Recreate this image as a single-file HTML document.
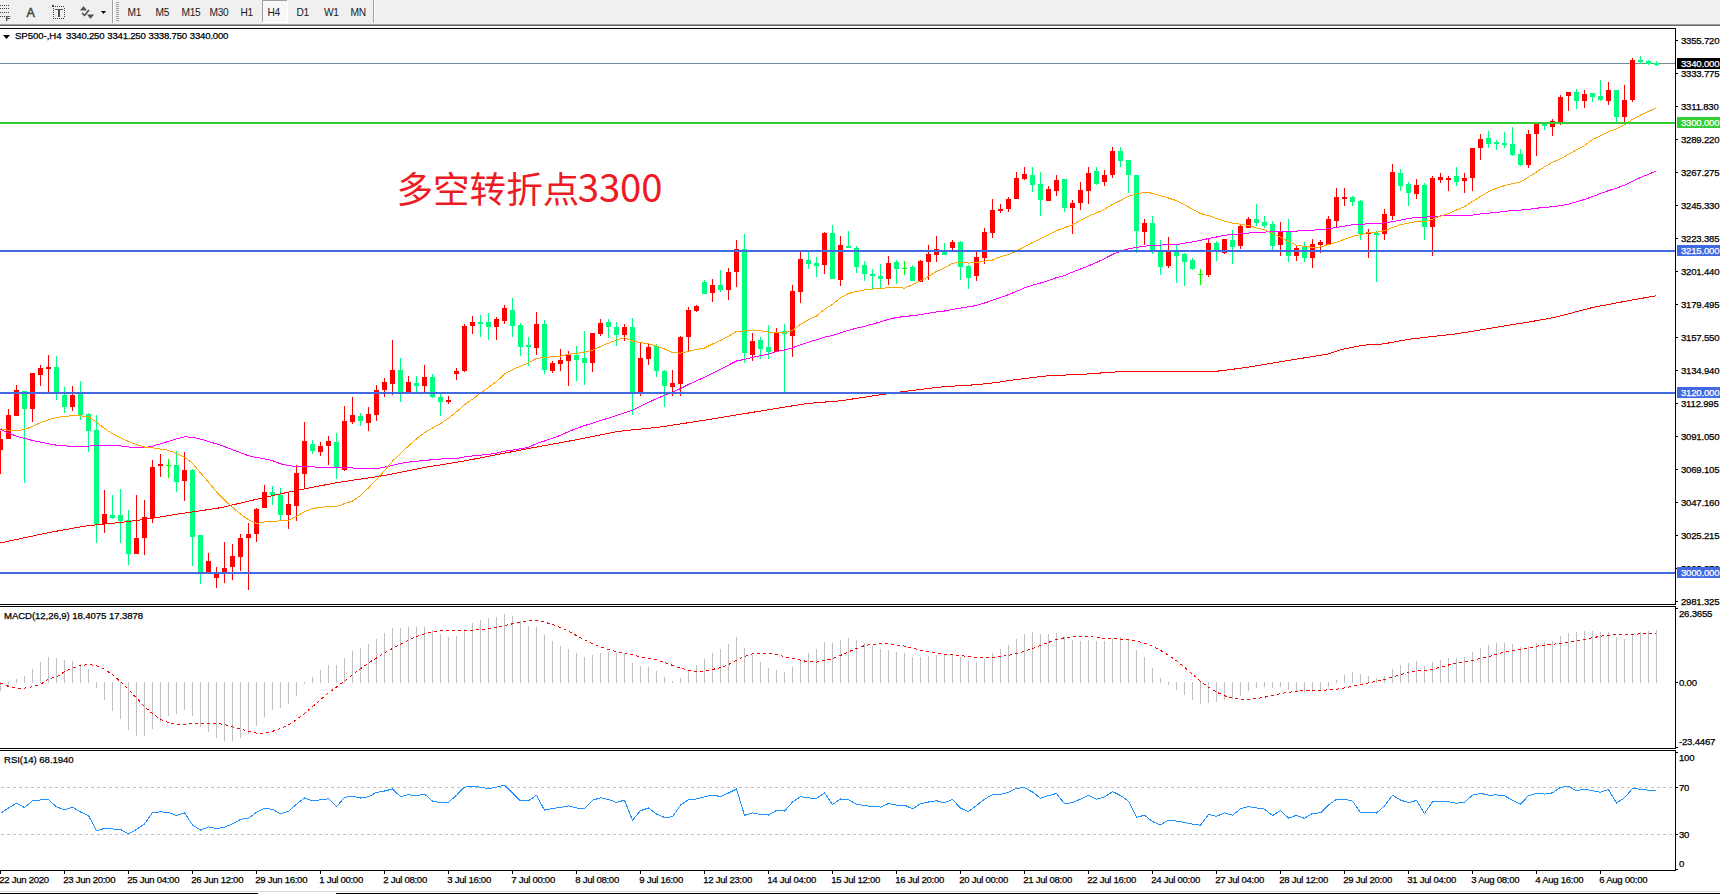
<!DOCTYPE html>
<html><head><meta charset="utf-8"><title>SP500 H4</title>
<style>html,body{margin:0;padding:0;background:#fff;width:1720px;height:894px;overflow:hidden}svg{display:block} text.k{stroke:#000} text.w{stroke:#fff}</style>
</head><body>
<svg width="1720" height="894" viewBox="0 0 1720 894">
<defs><pattern id="dith" x="0" y="0" width="2" height="2" patternUnits="userSpaceOnUse"><rect width="2" height="2" fill="#f0f0f0"/><rect width="1" height="1" fill="#fff"/><rect x="1" y="1" width="1" height="1" fill="#fff"/></pattern><clipPath id="cmain"><rect x="0" y="29" width="1675" height="575"/></clipPath></defs>
<rect x="0" y="0" width="1720" height="894" fill="#fff"/>
<rect x="0" y="0" width="1720" height="24" fill="#f0f0f0"/>
<rect x="0" y="24" width="1720" height="1" fill="#a0a0a0"/>
<rect x="0" y="25" width="1720" height="1" fill="#676767"/>
<rect x="0" y="5" width="1" height="1" fill="#404040"/>
<rect x="2" y="5" width="1" height="1" fill="#404040"/>
<rect x="4" y="5" width="1" height="1" fill="#404040"/>
<rect x="6" y="5" width="1" height="1" fill="#404040"/>
<rect x="8" y="5" width="1" height="1" fill="#404040"/>
<rect x="0" y="8" width="1" height="1" fill="#404040"/>
<rect x="2" y="8" width="1" height="1" fill="#404040"/>
<rect x="4" y="8" width="1" height="1" fill="#404040"/>
<rect x="6" y="8" width="1" height="1" fill="#404040"/>
<rect x="8" y="8" width="1" height="1" fill="#404040"/>
<rect x="0" y="12" width="1" height="1" fill="#404040"/>
<rect x="2" y="12" width="1" height="1" fill="#404040"/>
<rect x="4" y="12" width="1" height="1" fill="#404040"/>
<rect x="6" y="12" width="1" height="1" fill="#404040"/>
<rect x="8" y="12" width="1" height="1" fill="#404040"/>
<rect x="0" y="16" width="1" height="1" fill="#404040"/>
<rect x="2" y="16" width="1" height="1" fill="#404040"/>
<rect x="4" y="16" width="1" height="1" fill="#404040"/>
<text x="5.5" y="21" font-family="'Liberation Sans', sans-serif" font-size="8" font-weight="bold" fill="#404040">F</text>
<text x="26.5" y="17" font-family="'Liberation Sans', sans-serif" font-size="12.5" fill="#484848" stroke="#484848" stroke-width="0.5">A</text>
<rect x="53" y="6" width="1" height="1" fill="#404040"/>
<rect x="53" y="18" width="1" height="1" fill="#404040"/>
<rect x="55" y="6" width="1" height="1" fill="#404040"/>
<rect x="55" y="18" width="1" height="1" fill="#404040"/>
<rect x="57" y="6" width="1" height="1" fill="#404040"/>
<rect x="57" y="18" width="1" height="1" fill="#404040"/>
<rect x="59" y="6" width="1" height="1" fill="#404040"/>
<rect x="59" y="18" width="1" height="1" fill="#404040"/>
<rect x="61" y="6" width="1" height="1" fill="#404040"/>
<rect x="61" y="18" width="1" height="1" fill="#404040"/>
<rect x="63" y="6" width="1" height="1" fill="#404040"/>
<rect x="63" y="18" width="1" height="1" fill="#404040"/>
<rect x="53" y="8" width="1" height="1" fill="#404040"/>
<rect x="64" y="8" width="1" height="1" fill="#404040"/>
<rect x="53" y="10" width="1" height="1" fill="#404040"/>
<rect x="64" y="10" width="1" height="1" fill="#404040"/>
<rect x="53" y="12" width="1" height="1" fill="#404040"/>
<rect x="64" y="12" width="1" height="1" fill="#404040"/>
<rect x="53" y="14" width="1" height="1" fill="#404040"/>
<rect x="64" y="14" width="1" height="1" fill="#404040"/>
<rect x="53" y="16" width="1" height="1" fill="#404040"/>
<rect x="64" y="16" width="1" height="1" fill="#404040"/>
<rect x="52" y="5" width="2" height="2" fill="#404040"/><rect x="55" y="9" width="8" height="1" fill="#505050"/><rect x="58" y="9" width="2" height="8" fill="#505050"/>
<path d="M80,10.5 L83.5,6 L87,10.5 Z" fill="#505050"/>
<path d="M82,13 L84.5,15.5 L89,10" fill="none" stroke="#404040" stroke-width="1.4"/>
<path d="M87,14.5 L94,14.5 L90.5,19 Z" fill="#505050"/>
<path d="M101,11 L106,11 L103.5,14 Z" fill="#000"/>
<rect x="112" y="0" width="1" height="23" fill="#a0a0a0"/><rect x="113" y="0" width="1" height="23" fill="#ffffff"/>
<rect x="116" y="2" width="3" height="1" fill="#a0a0a0"/>
<rect x="116" y="4" width="3" height="1" fill="#a0a0a0"/>
<rect x="116" y="6" width="3" height="1" fill="#a0a0a0"/>
<rect x="116" y="8" width="3" height="1" fill="#a0a0a0"/>
<rect x="116" y="10" width="3" height="1" fill="#a0a0a0"/>
<rect x="116" y="12" width="3" height="1" fill="#a0a0a0"/>
<rect x="116" y="14" width="3" height="1" fill="#a0a0a0"/>
<rect x="116" y="16" width="3" height="1" fill="#a0a0a0"/>
<rect x="116" y="18" width="3" height="1" fill="#a0a0a0"/>
<rect x="116" y="20" width="3" height="1" fill="#a0a0a0"/>
<rect x="262" y="0" width="25" height="22" fill="url(#dith)"/>
<rect x="262" y="0" width="25" height="1" fill="#a0a0a0"/><rect x="262" y="0" width="1" height="22" fill="#a0a0a0"/>
<rect x="287" y="0" width="1" height="23" fill="#ffffff"/><rect x="262" y="22" width="26" height="1" fill="#ffffff"/>
<text x="127.5" y="15.7" font-family="'Liberation Sans', sans-serif" font-size="10.2" fill="#202020" letter-spacing="-0.3">M1</text>
<text x="155.5" y="15.7" font-family="'Liberation Sans', sans-serif" font-size="10.2" fill="#202020" letter-spacing="-0.3">M5</text>
<text x="181.5" y="15.7" font-family="'Liberation Sans', sans-serif" font-size="10.2" fill="#202020" letter-spacing="-0.3">M15</text>
<text x="209.5" y="15.7" font-family="'Liberation Sans', sans-serif" font-size="10.2" fill="#202020" letter-spacing="-0.3">M30</text>
<text x="240.5" y="15.7" font-family="'Liberation Sans', sans-serif" font-size="10.2" fill="#202020" letter-spacing="-0.3">H1</text>
<text x="267.5" y="15.7" font-family="'Liberation Sans', sans-serif" font-size="10.2" fill="#202020" letter-spacing="-0.3">H4</text>
<text x="296.5" y="15.7" font-family="'Liberation Sans', sans-serif" font-size="10.2" fill="#202020" letter-spacing="-0.3">D1</text>
<text x="324" y="15.7" font-family="'Liberation Sans', sans-serif" font-size="10.2" fill="#202020" letter-spacing="-0.3">W1</text>
<text x="350.5" y="15.7" font-family="'Liberation Sans', sans-serif" font-size="10.2" fill="#202020" letter-spacing="-0.3">MN</text>
<rect x="373" y="0" width="1" height="23" fill="#a0a0a0"/><rect x="374" y="0" width="1" height="23" fill="#ffffff"/>
<g shape-rendering="crispEdges">
<rect x="0" y="63" width="1676" height="1" fill="#778899"/>
</g>
<g shape-rendering="crispEdges" clip-path="url(#cmain)">
<rect x="0" y="431" width="1" height="43" fill="#ff0000"/>
<rect x="-2" y="439" width="5" height="11" fill="#ff0000"/>
<rect x="8" y="409" width="1" height="30" fill="#ff0000"/>
<rect x="6" y="415" width="5" height="24" fill="#ff0000"/>
<rect x="16" y="385" width="1" height="31" fill="#ff0000"/>
<rect x="14" y="390" width="5" height="26" fill="#ff0000"/>
<rect x="24" y="391" width="1" height="92" fill="#00ff7f"/>
<rect x="22" y="391" width="5" height="18" fill="#00ff7f"/>
<rect x="32" y="373" width="1" height="49" fill="#ff0000"/>
<rect x="30" y="373" width="5" height="36" fill="#ff0000"/>
<rect x="40" y="365" width="1" height="21" fill="#ff0000"/>
<rect x="38" y="368" width="5" height="7" fill="#ff0000"/>
<rect x="48" y="355" width="1" height="37" fill="#ff0000"/>
<rect x="46" y="367" width="5" height="2" fill="#ff0000"/>
<rect x="56" y="356" width="1" height="44" fill="#00ff7f"/>
<rect x="54" y="367" width="5" height="27" fill="#00ff7f"/>
<rect x="64" y="387" width="1" height="26" fill="#00ff7f"/>
<rect x="62" y="395" width="5" height="12" fill="#00ff7f"/>
<rect x="72" y="386" width="1" height="25" fill="#ff0000"/>
<rect x="70" y="395" width="5" height="12" fill="#ff0000"/>
<rect x="80" y="381" width="1" height="39" fill="#00ff7f"/>
<rect x="78" y="394" width="5" height="21" fill="#00ff7f"/>
<rect x="88" y="413" width="1" height="39" fill="#00ff7f"/>
<rect x="86" y="414" width="5" height="17" fill="#00ff7f"/>
<rect x="96" y="415" width="1" height="128" fill="#00ff7f"/>
<rect x="94" y="430" width="5" height="94" fill="#00ff7f"/>
<rect x="104" y="490" width="1" height="43" fill="#ff0000"/>
<rect x="102" y="514" width="5" height="10" fill="#ff0000"/>
<rect x="112" y="495" width="1" height="24" fill="#00ff7f"/>
<rect x="110" y="515" width="5" height="3" fill="#00ff7f"/>
<rect x="120" y="489" width="1" height="54" fill="#00ff7f"/>
<rect x="118" y="515" width="5" height="6" fill="#00ff7f"/>
<rect x="128" y="510" width="1" height="55" fill="#00ff7f"/>
<rect x="126" y="520" width="5" height="34" fill="#00ff7f"/>
<rect x="136" y="495" width="1" height="59" fill="#ff0000"/>
<rect x="134" y="538" width="5" height="16" fill="#ff0000"/>
<rect x="144" y="500" width="1" height="55" fill="#ff0000"/>
<rect x="142" y="517" width="5" height="21" fill="#ff0000"/>
<rect x="152" y="460" width="1" height="63" fill="#ff0000"/>
<rect x="150" y="467" width="5" height="51" fill="#ff0000"/>
<rect x="160" y="454" width="1" height="23" fill="#ff0000"/>
<rect x="158" y="464" width="5" height="2" fill="#ff0000"/>
<rect x="168" y="459" width="1" height="19" fill="#00ff00"/>
<rect x="166" y="465" width="5" height="1" fill="#00ff00"/>
<rect x="176" y="451" width="1" height="41" fill="#00ff7f"/>
<rect x="174" y="465" width="5" height="17" fill="#00ff7f"/>
<rect x="184" y="452" width="1" height="49" fill="#ff0000"/>
<rect x="182" y="470" width="5" height="11" fill="#ff0000"/>
<rect x="192" y="469" width="1" height="97" fill="#00ff7f"/>
<rect x="190" y="470" width="5" height="67" fill="#00ff7f"/>
<rect x="200" y="535" width="1" height="49" fill="#00ff7f"/>
<rect x="198" y="535" width="5" height="39" fill="#00ff7f"/>
<rect x="208" y="553" width="1" height="21" fill="#ff0000"/>
<rect x="206" y="561" width="5" height="13" fill="#ff0000"/>
<rect x="216" y="567" width="1" height="21" fill="#ff0000"/>
<rect x="214" y="573" width="5" height="5" fill="#ff0000"/>
<rect x="224" y="542" width="1" height="41" fill="#ff0000"/>
<rect x="222" y="568" width="5" height="6" fill="#ff0000"/>
<rect x="232" y="544" width="1" height="36" fill="#ff0000"/>
<rect x="230" y="556" width="5" height="11" fill="#ff0000"/>
<rect x="240" y="534" width="1" height="37" fill="#ff0000"/>
<rect x="238" y="538" width="5" height="19" fill="#ff0000"/>
<rect x="248" y="523" width="1" height="67" fill="#ff0000"/>
<rect x="246" y="534" width="5" height="4" fill="#ff0000"/>
<rect x="256" y="508" width="1" height="34" fill="#ff0000"/>
<rect x="254" y="509" width="5" height="25" fill="#ff0000"/>
<rect x="264" y="485" width="1" height="23" fill="#ff0000"/>
<rect x="262" y="492" width="5" height="16" fill="#ff0000"/>
<rect x="272" y="486" width="1" height="19" fill="#00ff7f"/>
<rect x="270" y="492" width="5" height="3" fill="#00ff7f"/>
<rect x="280" y="488" width="1" height="32" fill="#00ff7f"/>
<rect x="278" y="495" width="5" height="20" fill="#00ff7f"/>
<rect x="288" y="492" width="1" height="37" fill="#ff0000"/>
<rect x="286" y="504" width="5" height="11" fill="#ff0000"/>
<rect x="296" y="465" width="1" height="56" fill="#ff0000"/>
<rect x="294" y="473" width="5" height="33" fill="#ff0000"/>
<rect x="304" y="422" width="1" height="67" fill="#ff0000"/>
<rect x="302" y="441" width="5" height="33" fill="#ff0000"/>
<rect x="312" y="440" width="1" height="14" fill="#00ff7f"/>
<rect x="310" y="444" width="5" height="7" fill="#00ff7f"/>
<rect x="320" y="442" width="1" height="14" fill="#ff0000"/>
<rect x="318" y="446" width="5" height="6" fill="#ff0000"/>
<rect x="328" y="436" width="1" height="29" fill="#ff0000"/>
<rect x="326" y="441" width="5" height="5" fill="#ff0000"/>
<rect x="336" y="433" width="1" height="46" fill="#00ff7f"/>
<rect x="334" y="442" width="5" height="26" fill="#00ff7f"/>
<rect x="344" y="406" width="1" height="65" fill="#ff0000"/>
<rect x="342" y="421" width="5" height="49" fill="#ff0000"/>
<rect x="352" y="397" width="1" height="27" fill="#ff0000"/>
<rect x="350" y="415" width="5" height="7" fill="#ff0000"/>
<rect x="360" y="413" width="1" height="13" fill="#00ff7f"/>
<rect x="358" y="416" width="5" height="5" fill="#00ff7f"/>
<rect x="368" y="407" width="1" height="24" fill="#ff0000"/>
<rect x="366" y="414" width="5" height="9" fill="#ff0000"/>
<rect x="376" y="385" width="1" height="36" fill="#ff0000"/>
<rect x="374" y="390" width="5" height="25" fill="#ff0000"/>
<rect x="384" y="378" width="1" height="19" fill="#ff0000"/>
<rect x="382" y="382" width="5" height="8" fill="#ff0000"/>
<rect x="392" y="340" width="1" height="55" fill="#ff0000"/>
<rect x="390" y="370" width="5" height="14" fill="#ff0000"/>
<rect x="400" y="358" width="1" height="44" fill="#00ff7f"/>
<rect x="398" y="370" width="5" height="22" fill="#00ff7f"/>
<rect x="408" y="376" width="1" height="16" fill="#ff0000"/>
<rect x="406" y="382" width="5" height="10" fill="#ff0000"/>
<rect x="416" y="376" width="1" height="16" fill="#00ff7f"/>
<rect x="414" y="383" width="5" height="3" fill="#00ff7f"/>
<rect x="424" y="365" width="1" height="27" fill="#ff0000"/>
<rect x="422" y="377" width="5" height="9" fill="#ff0000"/>
<rect x="432" y="374" width="1" height="24" fill="#00ff7f"/>
<rect x="430" y="377" width="5" height="20" fill="#00ff7f"/>
<rect x="440" y="394" width="1" height="22" fill="#00ff7f"/>
<rect x="438" y="397" width="5" height="5" fill="#00ff7f"/>
<rect x="448" y="396" width="1" height="8" fill="#ff0000"/>
<rect x="446" y="400" width="5" height="2" fill="#ff0000"/>
<rect x="456" y="368" width="1" height="12" fill="#ff0000"/>
<rect x="454" y="371" width="5" height="3" fill="#ff0000"/>
<rect x="464" y="324" width="1" height="48" fill="#ff0000"/>
<rect x="462" y="326" width="5" height="45" fill="#ff0000"/>
<rect x="472" y="316" width="1" height="18" fill="#ff0000"/>
<rect x="470" y="322" width="5" height="4" fill="#ff0000"/>
<rect x="480" y="315" width="1" height="22" fill="#00ff7f"/>
<rect x="478" y="322" width="5" height="2" fill="#00ff7f"/>
<rect x="488" y="313" width="1" height="27" fill="#00ff7f"/>
<rect x="486" y="322" width="5" height="5" fill="#00ff7f"/>
<rect x="496" y="317" width="1" height="23" fill="#ff0000"/>
<rect x="494" y="319" width="5" height="8" fill="#ff0000"/>
<rect x="504" y="305" width="1" height="19" fill="#ff0000"/>
<rect x="502" y="308" width="5" height="13" fill="#ff0000"/>
<rect x="512" y="298" width="1" height="39" fill="#00ff7f"/>
<rect x="510" y="310" width="5" height="16" fill="#00ff7f"/>
<rect x="520" y="323" width="1" height="33" fill="#00ff7f"/>
<rect x="518" y="325" width="5" height="22" fill="#00ff7f"/>
<rect x="528" y="337" width="1" height="29" fill="#00ff7f"/>
<rect x="526" y="345" width="5" height="2" fill="#00ff7f"/>
<rect x="536" y="312" width="1" height="43" fill="#ff0000"/>
<rect x="534" y="324" width="5" height="24" fill="#ff0000"/>
<rect x="544" y="320" width="1" height="54" fill="#00ff7f"/>
<rect x="542" y="324" width="5" height="46" fill="#00ff7f"/>
<rect x="552" y="361" width="1" height="12" fill="#ff0000"/>
<rect x="550" y="363" width="5" height="8" fill="#ff0000"/>
<rect x="560" y="349" width="1" height="22" fill="#ff0000"/>
<rect x="558" y="360" width="5" height="4" fill="#ff0000"/>
<rect x="568" y="351" width="1" height="35" fill="#ff0000"/>
<rect x="566" y="354" width="5" height="7" fill="#ff0000"/>
<rect x="576" y="346" width="1" height="35" fill="#00ff7f"/>
<rect x="574" y="355" width="5" height="5" fill="#00ff7f"/>
<rect x="584" y="331" width="1" height="54" fill="#00ff7f"/>
<rect x="582" y="358" width="5" height="5" fill="#00ff7f"/>
<rect x="592" y="333" width="1" height="39" fill="#ff0000"/>
<rect x="590" y="333" width="5" height="30" fill="#ff0000"/>
<rect x="600" y="319" width="1" height="17" fill="#ff0000"/>
<rect x="598" y="323" width="5" height="11" fill="#ff0000"/>
<rect x="608" y="319" width="1" height="19" fill="#00ff7f"/>
<rect x="606" y="322" width="5" height="5" fill="#00ff7f"/>
<rect x="616" y="322" width="1" height="24" fill="#00ff7f"/>
<rect x="614" y="327" width="5" height="8" fill="#00ff7f"/>
<rect x="624" y="324" width="1" height="17" fill="#ff0000"/>
<rect x="622" y="327" width="5" height="8" fill="#ff0000"/>
<rect x="632" y="318" width="1" height="97" fill="#00ff7f"/>
<rect x="630" y="327" width="5" height="65" fill="#00ff7f"/>
<rect x="640" y="343" width="1" height="53" fill="#ff0000"/>
<rect x="638" y="358" width="5" height="34" fill="#ff0000"/>
<rect x="648" y="343" width="1" height="22" fill="#ff0000"/>
<rect x="646" y="347" width="5" height="12" fill="#ff0000"/>
<rect x="656" y="344" width="1" height="33" fill="#00ff7f"/>
<rect x="654" y="346" width="5" height="25" fill="#00ff7f"/>
<rect x="664" y="370" width="1" height="37" fill="#00ff7f"/>
<rect x="662" y="371" width="5" height="15" fill="#00ff7f"/>
<rect x="672" y="370" width="1" height="26" fill="#ff0000"/>
<rect x="670" y="383" width="5" height="4" fill="#ff0000"/>
<rect x="680" y="336" width="1" height="60" fill="#ff0000"/>
<rect x="678" y="337" width="5" height="47" fill="#ff0000"/>
<rect x="688" y="307" width="1" height="44" fill="#ff0000"/>
<rect x="686" y="310" width="5" height="27" fill="#ff0000"/>
<rect x="696" y="305" width="1" height="7" fill="#ff0000"/>
<rect x="694" y="306" width="5" height="5" fill="#ff0000"/>
<rect x="704" y="280" width="1" height="14" fill="#00ff7f"/>
<rect x="702" y="282" width="5" height="12" fill="#00ff7f"/>
<rect x="712" y="279" width="1" height="23" fill="#ff0000"/>
<rect x="710" y="285" width="5" height="8" fill="#ff0000"/>
<rect x="720" y="270" width="1" height="22" fill="#00ff7f"/>
<rect x="718" y="285" width="5" height="5" fill="#00ff7f"/>
<rect x="728" y="268" width="1" height="32" fill="#ff0000"/>
<rect x="726" y="272" width="5" height="18" fill="#ff0000"/>
<rect x="736" y="240" width="1" height="47" fill="#ff0000"/>
<rect x="734" y="249" width="5" height="23" fill="#ff0000"/>
<rect x="744" y="234" width="1" height="129" fill="#00ff7f"/>
<rect x="742" y="249" width="5" height="104" fill="#00ff7f"/>
<rect x="752" y="333" width="1" height="28" fill="#ff0000"/>
<rect x="750" y="341" width="5" height="14" fill="#ff0000"/>
<rect x="760" y="337" width="1" height="22" fill="#00ff7f"/>
<rect x="758" y="340" width="5" height="9" fill="#00ff7f"/>
<rect x="768" y="325" width="1" height="34" fill="#00ff7f"/>
<rect x="766" y="347" width="5" height="5" fill="#00ff7f"/>
<rect x="776" y="328" width="1" height="24" fill="#ff0000"/>
<rect x="774" y="332" width="5" height="20" fill="#ff0000"/>
<rect x="784" y="324" width="1" height="70" fill="#00ff7f"/>
<rect x="782" y="331" width="5" height="3" fill="#00ff7f"/>
<rect x="792" y="285" width="1" height="72" fill="#ff0000"/>
<rect x="790" y="291" width="5" height="45" fill="#ff0000"/>
<rect x="800" y="252" width="1" height="51" fill="#ff0000"/>
<rect x="798" y="259" width="5" height="33" fill="#ff0000"/>
<rect x="808" y="252" width="1" height="17" fill="#00ff7f"/>
<rect x="806" y="260" width="5" height="4" fill="#00ff7f"/>
<rect x="816" y="257" width="1" height="20" fill="#00ff7f"/>
<rect x="814" y="263" width="5" height="3" fill="#00ff7f"/>
<rect x="824" y="232" width="1" height="42" fill="#ff0000"/>
<rect x="822" y="233" width="5" height="32" fill="#ff0000"/>
<rect x="832" y="225" width="1" height="54" fill="#00ff7f"/>
<rect x="830" y="233" width="5" height="46" fill="#00ff7f"/>
<rect x="840" y="236" width="1" height="50" fill="#ff0000"/>
<rect x="838" y="245" width="5" height="35" fill="#ff0000"/>
<rect x="848" y="231" width="1" height="17" fill="#00ff7f"/>
<rect x="846" y="246" width="5" height="2" fill="#00ff7f"/>
<rect x="856" y="246" width="1" height="27" fill="#00ff7f"/>
<rect x="854" y="248" width="5" height="19" fill="#00ff7f"/>
<rect x="864" y="261" width="1" height="20" fill="#00ff7f"/>
<rect x="862" y="265" width="5" height="9" fill="#00ff7f"/>
<rect x="872" y="269" width="1" height="21" fill="#00ff7f"/>
<rect x="870" y="274" width="5" height="2" fill="#00ff7f"/>
<rect x="880" y="264" width="1" height="24" fill="#00ff7f"/>
<rect x="878" y="276" width="5" height="3" fill="#00ff7f"/>
<rect x="888" y="256" width="1" height="29" fill="#ff0000"/>
<rect x="886" y="263" width="5" height="16" fill="#ff0000"/>
<rect x="896" y="260" width="1" height="24" fill="#00ff7f"/>
<rect x="894" y="262" width="5" height="7" fill="#00ff7f"/>
<rect x="904" y="261" width="1" height="14" fill="#00ff00"/>
<rect x="902" y="268" width="5" height="1" fill="#00ff00"/>
<rect x="912" y="265" width="1" height="16" fill="#00ff7f"/>
<rect x="910" y="267" width="5" height="14" fill="#00ff7f"/>
<rect x="920" y="260" width="1" height="22" fill="#ff0000"/>
<rect x="918" y="261" width="5" height="21" fill="#ff0000"/>
<rect x="928" y="245" width="1" height="35" fill="#ff0000"/>
<rect x="926" y="254" width="5" height="8" fill="#ff0000"/>
<rect x="936" y="236" width="1" height="26" fill="#ff0000"/>
<rect x="934" y="249" width="5" height="6" fill="#ff0000"/>
<rect x="944" y="243" width="1" height="12" fill="#00ff7f"/>
<rect x="942" y="250" width="5" height="5" fill="#00ff7f"/>
<rect x="952" y="240" width="1" height="10" fill="#ff0000"/>
<rect x="950" y="242" width="5" height="6" fill="#ff0000"/>
<rect x="960" y="241" width="1" height="39" fill="#00ff7f"/>
<rect x="958" y="242" width="5" height="25" fill="#00ff7f"/>
<rect x="968" y="265" width="1" height="24" fill="#00ff7f"/>
<rect x="966" y="266" width="5" height="12" fill="#00ff7f"/>
<rect x="976" y="252" width="1" height="29" fill="#ff0000"/>
<rect x="974" y="257" width="5" height="19" fill="#ff0000"/>
<rect x="984" y="228" width="1" height="36" fill="#ff0000"/>
<rect x="982" y="232" width="5" height="26" fill="#ff0000"/>
<rect x="992" y="199" width="1" height="39" fill="#ff0000"/>
<rect x="990" y="210" width="5" height="23" fill="#ff0000"/>
<rect x="1000" y="204" width="1" height="9" fill="#ff0000"/>
<rect x="998" y="209" width="5" height="2" fill="#ff0000"/>
<rect x="1008" y="197" width="1" height="15" fill="#ff0000"/>
<rect x="1006" y="199" width="5" height="10" fill="#ff0000"/>
<rect x="1016" y="172" width="1" height="27" fill="#ff0000"/>
<rect x="1014" y="178" width="5" height="21" fill="#ff0000"/>
<rect x="1024" y="167" width="1" height="13" fill="#ff0000"/>
<rect x="1022" y="174" width="5" height="5" fill="#ff0000"/>
<rect x="1032" y="167" width="1" height="25" fill="#00ff7f"/>
<rect x="1030" y="175" width="5" height="10" fill="#00ff7f"/>
<rect x="1040" y="172" width="1" height="44" fill="#00ff7f"/>
<rect x="1038" y="184" width="5" height="16" fill="#00ff7f"/>
<rect x="1048" y="186" width="1" height="15" fill="#ff0000"/>
<rect x="1046" y="189" width="5" height="12" fill="#ff0000"/>
<rect x="1056" y="175" width="1" height="21" fill="#ff0000"/>
<rect x="1054" y="180" width="5" height="11" fill="#ff0000"/>
<rect x="1064" y="179" width="1" height="33" fill="#00ff7f"/>
<rect x="1062" y="179" width="5" height="29" fill="#00ff7f"/>
<rect x="1072" y="200" width="1" height="34" fill="#ff0000"/>
<rect x="1070" y="203" width="5" height="5" fill="#ff0000"/>
<rect x="1080" y="182" width="1" height="28" fill="#ff0000"/>
<rect x="1078" y="190" width="5" height="13" fill="#ff0000"/>
<rect x="1088" y="167" width="1" height="37" fill="#ff0000"/>
<rect x="1086" y="173" width="5" height="18" fill="#ff0000"/>
<rect x="1096" y="167" width="1" height="18" fill="#00ff7f"/>
<rect x="1094" y="171" width="5" height="13" fill="#00ff7f"/>
<rect x="1104" y="170" width="1" height="16" fill="#ff0000"/>
<rect x="1102" y="175" width="5" height="7" fill="#ff0000"/>
<rect x="1112" y="147" width="1" height="31" fill="#ff0000"/>
<rect x="1110" y="151" width="5" height="24" fill="#ff0000"/>
<rect x="1120" y="147" width="1" height="20" fill="#00ff7f"/>
<rect x="1118" y="151" width="5" height="10" fill="#00ff7f"/>
<rect x="1128" y="160" width="1" height="33" fill="#00ff7f"/>
<rect x="1126" y="160" width="5" height="15" fill="#00ff7f"/>
<rect x="1136" y="175" width="1" height="78" fill="#00ff7f"/>
<rect x="1134" y="175" width="5" height="56" fill="#00ff7f"/>
<rect x="1144" y="219" width="1" height="26" fill="#ff0000"/>
<rect x="1142" y="223" width="5" height="9" fill="#ff0000"/>
<rect x="1152" y="216" width="1" height="38" fill="#00ff7f"/>
<rect x="1150" y="223" width="5" height="28" fill="#00ff7f"/>
<rect x="1160" y="240" width="1" height="35" fill="#00ff7f"/>
<rect x="1158" y="250" width="5" height="17" fill="#00ff7f"/>
<rect x="1168" y="237" width="1" height="31" fill="#ff0000"/>
<rect x="1166" y="251" width="5" height="15" fill="#ff0000"/>
<rect x="1176" y="245" width="1" height="38" fill="#00ff7f"/>
<rect x="1174" y="251" width="5" height="5" fill="#00ff7f"/>
<rect x="1184" y="253" width="1" height="33" fill="#00ff7f"/>
<rect x="1182" y="254" width="5" height="8" fill="#00ff7f"/>
<rect x="1192" y="258" width="1" height="12" fill="#00ff7f"/>
<rect x="1190" y="260" width="5" height="9" fill="#00ff7f"/>
<rect x="1200" y="269" width="1" height="16" fill="#00ff00"/>
<rect x="1198" y="274" width="5" height="1" fill="#00ff00"/>
<rect x="1208" y="238" width="1" height="39" fill="#ff0000"/>
<rect x="1206" y="243" width="5" height="32" fill="#ff0000"/>
<rect x="1216" y="241" width="1" height="20" fill="#00ff7f"/>
<rect x="1214" y="243" width="5" height="7" fill="#00ff7f"/>
<rect x="1224" y="239" width="1" height="15" fill="#ff0000"/>
<rect x="1222" y="239" width="5" height="14" fill="#ff0000"/>
<rect x="1232" y="230" width="1" height="34" fill="#00ff7f"/>
<rect x="1230" y="240" width="5" height="7" fill="#00ff7f"/>
<rect x="1240" y="224" width="1" height="25" fill="#ff0000"/>
<rect x="1238" y="226" width="5" height="20" fill="#ff0000"/>
<rect x="1248" y="217" width="1" height="11" fill="#ff0000"/>
<rect x="1246" y="219" width="5" height="9" fill="#ff0000"/>
<rect x="1256" y="204" width="1" height="22" fill="#00ff7f"/>
<rect x="1254" y="219" width="5" height="4" fill="#00ff7f"/>
<rect x="1264" y="216" width="1" height="12" fill="#00ff7f"/>
<rect x="1262" y="222" width="5" height="4" fill="#00ff7f"/>
<rect x="1272" y="221" width="1" height="29" fill="#00ff7f"/>
<rect x="1270" y="224" width="5" height="22" fill="#00ff7f"/>
<rect x="1280" y="222" width="1" height="34" fill="#ff0000"/>
<rect x="1278" y="231" width="5" height="14" fill="#ff0000"/>
<rect x="1288" y="219" width="1" height="43" fill="#00ff7f"/>
<rect x="1286" y="231" width="5" height="25" fill="#00ff7f"/>
<rect x="1296" y="246" width="1" height="15" fill="#ff0000"/>
<rect x="1294" y="248" width="5" height="8" fill="#ff0000"/>
<rect x="1304" y="242" width="1" height="20" fill="#00ff7f"/>
<rect x="1302" y="247" width="5" height="11" fill="#00ff7f"/>
<rect x="1312" y="239" width="1" height="29" fill="#ff0000"/>
<rect x="1310" y="244" width="5" height="14" fill="#ff0000"/>
<rect x="1320" y="240" width="1" height="13" fill="#ff0000"/>
<rect x="1318" y="242" width="5" height="3" fill="#ff0000"/>
<rect x="1328" y="216" width="1" height="29" fill="#ff0000"/>
<rect x="1326" y="219" width="5" height="26" fill="#ff0000"/>
<rect x="1336" y="188" width="1" height="39" fill="#ff0000"/>
<rect x="1334" y="197" width="5" height="24" fill="#ff0000"/>
<rect x="1344" y="188" width="1" height="18" fill="#ff0000"/>
<rect x="1342" y="197" width="5" height="2" fill="#ff0000"/>
<rect x="1352" y="196" width="1" height="10" fill="#00ff7f"/>
<rect x="1350" y="197" width="5" height="5" fill="#00ff7f"/>
<rect x="1360" y="200" width="1" height="40" fill="#00ff7f"/>
<rect x="1358" y="201" width="5" height="33" fill="#00ff7f"/>
<rect x="1368" y="229" width="1" height="29" fill="#ff0000"/>
<rect x="1366" y="232" width="5" height="2" fill="#ff0000"/>
<rect x="1376" y="231" width="1" height="51" fill="#00ff7f"/>
<rect x="1374" y="233" width="5" height="2" fill="#00ff7f"/>
<rect x="1384" y="209" width="1" height="31" fill="#ff0000"/>
<rect x="1382" y="214" width="5" height="20" fill="#ff0000"/>
<rect x="1392" y="164" width="1" height="56" fill="#ff0000"/>
<rect x="1390" y="172" width="5" height="44" fill="#ff0000"/>
<rect x="1400" y="169" width="1" height="22" fill="#00ff7f"/>
<rect x="1398" y="173" width="5" height="13" fill="#00ff7f"/>
<rect x="1408" y="182" width="1" height="24" fill="#00ff7f"/>
<rect x="1406" y="184" width="5" height="9" fill="#00ff7f"/>
<rect x="1416" y="179" width="1" height="20" fill="#ff0000"/>
<rect x="1414" y="185" width="5" height="9" fill="#ff0000"/>
<rect x="1424" y="183" width="1" height="57" fill="#00ff7f"/>
<rect x="1422" y="185" width="5" height="42" fill="#00ff7f"/>
<rect x="1432" y="176" width="1" height="80" fill="#ff0000"/>
<rect x="1430" y="178" width="5" height="49" fill="#ff0000"/>
<rect x="1440" y="173" width="1" height="10" fill="#ff0000"/>
<rect x="1438" y="177" width="5" height="3" fill="#ff0000"/>
<rect x="1448" y="176" width="1" height="15" fill="#ff0000"/>
<rect x="1446" y="178" width="5" height="2" fill="#ff0000"/>
<rect x="1456" y="167" width="1" height="19" fill="#00ff7f"/>
<rect x="1454" y="176" width="5" height="6" fill="#00ff7f"/>
<rect x="1464" y="173" width="1" height="20" fill="#ff0000"/>
<rect x="1462" y="178" width="5" height="3" fill="#ff0000"/>
<rect x="1472" y="148" width="1" height="43" fill="#ff0000"/>
<rect x="1470" y="148" width="5" height="30" fill="#ff0000"/>
<rect x="1480" y="134" width="1" height="26" fill="#ff0000"/>
<rect x="1478" y="139" width="5" height="9" fill="#ff0000"/>
<rect x="1488" y="131" width="1" height="17" fill="#00ff7f"/>
<rect x="1486" y="138" width="5" height="6" fill="#00ff7f"/>
<rect x="1496" y="140" width="1" height="10" fill="#00ff7f"/>
<rect x="1494" y="142" width="5" height="2" fill="#00ff7f"/>
<rect x="1504" y="132" width="1" height="16" fill="#00ff7f"/>
<rect x="1502" y="143" width="5" height="2" fill="#00ff7f"/>
<rect x="1512" y="127" width="1" height="29" fill="#00ff7f"/>
<rect x="1510" y="144" width="5" height="11" fill="#00ff7f"/>
<rect x="1520" y="149" width="1" height="17" fill="#00ff7f"/>
<rect x="1518" y="154" width="5" height="11" fill="#00ff7f"/>
<rect x="1528" y="130" width="1" height="38" fill="#ff0000"/>
<rect x="1526" y="134" width="5" height="31" fill="#ff0000"/>
<rect x="1536" y="122" width="1" height="34" fill="#ff0000"/>
<rect x="1534" y="124" width="5" height="10" fill="#ff0000"/>
<rect x="1544" y="122" width="1" height="8" fill="#00ff7f"/>
<rect x="1542" y="124" width="5" height="2" fill="#00ff7f"/>
<rect x="1552" y="119" width="1" height="17" fill="#ff0000"/>
<rect x="1550" y="121" width="5" height="6" fill="#ff0000"/>
<rect x="1560" y="95" width="1" height="30" fill="#ff0000"/>
<rect x="1558" y="97" width="5" height="25" fill="#ff0000"/>
<rect x="1568" y="92" width="1" height="19" fill="#ff0000"/>
<rect x="1566" y="92" width="5" height="4" fill="#ff0000"/>
<rect x="1576" y="89" width="1" height="20" fill="#00ff7f"/>
<rect x="1574" y="92" width="5" height="9" fill="#00ff7f"/>
<rect x="1584" y="90" width="1" height="18" fill="#ff0000"/>
<rect x="1582" y="94" width="5" height="7" fill="#ff0000"/>
<rect x="1592" y="93" width="1" height="9" fill="#00ff7f"/>
<rect x="1590" y="93" width="5" height="4" fill="#00ff7f"/>
<rect x="1600" y="80" width="1" height="21" fill="#00ff7f"/>
<rect x="1598" y="96" width="5" height="4" fill="#00ff7f"/>
<rect x="1608" y="82" width="1" height="23" fill="#ff0000"/>
<rect x="1606" y="90" width="5" height="11" fill="#ff0000"/>
<rect x="1616" y="90" width="1" height="33" fill="#00ff7f"/>
<rect x="1614" y="90" width="5" height="27" fill="#00ff7f"/>
<rect x="1624" y="85" width="1" height="38" fill="#ff0000"/>
<rect x="1622" y="100" width="5" height="17" fill="#ff0000"/>
<rect x="1632" y="58" width="1" height="44" fill="#ff0000"/>
<rect x="1630" y="60" width="5" height="40" fill="#ff0000"/>
<rect x="1640" y="56" width="1" height="8" fill="#00ff7f"/>
<rect x="1638" y="60" width="5" height="2" fill="#00ff7f"/>
<rect x="1648" y="60" width="1" height="5" fill="#00ff7f"/>
<rect x="1646" y="61" width="5" height="3" fill="#00ff7f"/>
<rect x="1656" y="61" width="1" height="5" fill="#00ff7f"/>
<rect x="1654" y="63" width="5" height="2" fill="#00ff7f"/>
</g>
<g shape-rendering="crispEdges" clip-path="url(#cmain)">
<polyline points="0.5,542.90 8.5,541.20 16.5,539.49 24.5,537.76 32.5,536.04 40.5,534.31 48.5,532.62 56.5,531.19 64.5,529.76 72.5,528.32 80.5,526.89 88.5,525.61 96.5,524.82 104.5,524.02 112.5,523.22 120.5,522.43 128.5,521.53 136.5,520.43 144.5,519.33 152.5,518.23 160.5,516.99 168.5,515.57 176.5,514.26 184.5,513.08 192.5,511.91 200.5,510.74 208.5,509.56 216.5,508.39 224.5,506.86 232.5,504.97 240.5,503.08 248.5,501.19 256.5,499.30 264.5,497.42 272.5,495.57 280.5,493.86 288.5,492.15 296.5,490.44 304.5,488.84 312.5,487.30 320.5,485.77 328.5,484.23 336.5,482.69 344.5,481.47 352.5,480.30 360.5,479.13 368.5,477.95 376.5,476.78 384.5,475.50 392.5,473.90 400.5,472.31 408.5,470.71 416.5,469.12 424.5,467.52 432.5,466.14 440.5,464.87 448.5,463.60 456.5,462.33 464.5,460.94 472.5,459.41 480.5,457.85 488.5,456.29 496.5,454.74 504.5,453.18 512.5,451.62 520.5,450.06 528.5,448.52 536.5,447.06 544.5,445.60 552.5,444.13 560.5,442.67 568.5,441.21 576.5,439.67 584.5,438.06 592.5,436.45 600.5,434.84 608.5,433.23 616.5,431.62 624.5,430.73 632.5,429.90 640.5,429.07 648.5,428.24 656.5,427.41 664.5,426.39 672.5,425.16 680.5,423.93 688.5,422.70 696.5,421.47 704.5,420.24 712.5,418.97 720.5,417.64 728.5,416.32 736.5,414.99 744.5,413.67 752.5,412.34 760.5,411.01 768.5,409.72 776.5,408.43 784.5,407.14 792.5,405.85 800.5,404.56 808.5,403.39 816.5,402.74 824.5,402.09 832.5,401.45 840.5,400.80 848.5,399.60 856.5,398.40 864.5,397.20 872.5,396.00 880.5,394.80 888.5,393.64 896.5,392.51 904.5,391.42 912.5,390.42 920.5,389.41 928.5,388.41 936.5,387.40 944.5,386.66 952.5,386.17 960.5,385.68 968.5,385.19 976.5,384.70 984.5,383.90 992.5,382.90 1000.5,381.90 1008.5,380.59 1016.5,379.52 1024.5,378.59 1032.5,377.63 1040.5,376.57 1048.5,375.77 1056.5,375.42 1064.5,375.08 1072.5,374.73 1080.5,374.38 1088.5,373.91 1096.5,373.31 1104.5,372.71 1112.5,372.10 1120.5,371.80 1128.5,371.80 1136.5,371.80 1144.5,371.80 1152.5,371.80 1160.5,371.80 1168.5,371.80 1176.5,371.80 1184.5,371.80 1192.5,371.80 1200.5,371.80 1208.5,371.80 1216.5,371.24 1224.5,370.30 1232.5,369.29 1240.5,368.18 1248.5,367.08 1256.5,365.79 1264.5,364.45 1272.5,363.10 1280.5,361.78 1288.5,360.47 1296.5,359.16 1304.5,357.85 1312.5,356.54 1320.5,355.23 1328.5,353.92 1336.5,351.07 1344.5,348.81 1352.5,347.27 1360.5,345.72 1368.5,344.76 1376.5,344.65 1384.5,343.75 1392.5,342.28 1400.5,340.80 1408.5,339.33 1416.5,338.36 1424.5,337.45 1432.5,336.53 1440.5,335.62 1448.5,334.70 1456.5,333.78 1464.5,332.53 1472.5,331.20 1480.5,329.87 1488.5,328.53 1496.5,327.21 1504.5,325.92 1512.5,324.63 1520.5,323.34 1528.5,322.05 1536.5,320.67 1544.5,319.23 1552.5,317.79 1560.5,315.95 1568.5,313.83 1576.5,311.71 1584.5,309.59 1592.5,307.48 1600.5,305.97 1608.5,304.46 1616.5,302.96 1624.5,301.45 1632.5,299.98 1640.5,298.55 1648.5,297.12 1656.5,295.80" fill="none" stroke="#ff0000" stroke-width="1" />
<polyline points="0.5,429.50 8.5,432.91 16.5,436.28 24.5,438.43 32.5,440.54 40.5,442.14 48.5,443.74 56.5,445.19 64.5,445.80 72.5,446.42 80.5,446.76 88.5,446.10 96.5,445.60 104.5,445.60 112.5,445.60 120.5,445.93 128.5,446.95 136.5,447.77 144.5,447.58 152.5,446.10 160.5,443.78 168.5,441.41 176.5,438.98 184.5,436.84 192.5,437.20 200.5,439.05 208.5,441.47 216.5,443.89 224.5,446.62 232.5,449.66 240.5,452.70 248.5,455.74 256.5,457.49 264.5,458.81 272.5,460.60 280.5,463.80 288.5,465.54 296.5,466.58 304.5,466.76 312.5,466.94 320.5,467.12 328.5,467.30 336.5,467.48 344.5,467.73 352.5,467.98 360.5,468.24 368.5,468.50 376.5,468.75 384.5,467.24 392.5,465.34 400.5,463.45 408.5,462.10 416.5,461.29 424.5,460.49 432.5,459.71 440.5,459.04 448.5,458.78 456.5,458.42 464.5,456.91 472.5,455.98 480.5,455.18 488.5,454.46 496.5,453.09 504.5,451.29 512.5,450.04 520.5,448.79 528.5,447.27 536.5,443.63 544.5,441.01 552.5,438.19 560.5,435.27 568.5,431.64 576.5,428.41 584.5,425.60 592.5,423.16 600.5,420.60 608.5,418.09 616.5,415.43 624.5,412.83 632.5,410.20 640.5,406.26 648.5,402.37 656.5,398.68 664.5,395.36 672.5,392.23 680.5,388.57 688.5,384.50 696.5,380.80 704.5,377.21 712.5,373.39 720.5,369.31 728.5,365.09 736.5,361.01 744.5,359.42 752.5,357.42 760.5,355.66 768.5,354.06 776.5,351.58 784.5,350.02 792.5,347.77 800.5,344.83 808.5,342.10 816.5,339.84 824.5,337.13 832.5,335.47 840.5,332.80 848.5,330.37 856.5,328.21 864.5,326.33 872.5,324.13 880.5,321.89 888.5,319.39 896.5,317.53 904.5,316.48 912.5,315.73 920.5,314.59 928.5,313.25 936.5,311.98 944.5,311.01 952.5,309.48 960.5,308.03 968.5,306.77 976.5,305.55 984.5,303.04 992.5,300.26 1000.5,297.52 1008.5,294.69 1016.5,291.38 1024.5,287.95 1032.5,285.25 1040.5,283.01 1048.5,280.50 1056.5,277.69 1064.5,275.52 1072.5,272.09 1080.5,269.03 1088.5,265.87 1096.5,262.47 1104.5,258.64 1112.5,254.42 1120.5,251.22 1128.5,248.77 1136.5,247.40 1144.5,246.11 1152.5,245.48 1160.5,245.06 1168.5,244.69 1176.5,244.81 1184.5,243.16 1192.5,241.86 1200.5,240.49 1208.5,238.50 1216.5,237.00 1224.5,235.26 1232.5,234.45 1240.5,233.85 1248.5,233.04 1256.5,232.25 1264.5,232.13 1272.5,231.53 1280.5,231.27 1288.5,231.40 1296.5,231.06 1304.5,230.78 1312.5,230.20 1320.5,229.54 1328.5,228.74 1336.5,227.44 1344.5,226.14 1352.5,224.70 1360.5,224.21 1368.5,223.82 1376.5,223.57 1384.5,222.83 1392.5,221.57 1400.5,220.10 1408.5,218.57 1416.5,217.27 1424.5,217.18 1432.5,216.59 1440.5,216.00 1448.5,215.62 1456.5,215.69 1464.5,215.76 1472.5,215.09 1480.5,213.99 1488.5,213.16 1496.5,212.48 1504.5,211.35 1512.5,210.48 1520.5,210.03 1528.5,209.32 1536.5,208.23 1544.5,207.34 1552.5,206.79 1560.5,205.64 1568.5,204.12 1576.5,201.77 1584.5,199.42 1592.5,196.62 1600.5,193.58 1608.5,190.64 1616.5,188.12 1624.5,185.18 1632.5,181.37 1640.5,177.51 1648.5,174.25 1656.5,170.88" fill="none" stroke="#ff00ff" stroke-width="1" />
<polyline points="0.5,428.70 8.5,430.32 16.5,430.67 24.5,429.69 32.5,426.30 40.5,422.65 48.5,419.82 56.5,417.52 64.5,416.30 72.5,415.80 80.5,415.80 88.5,416.67 96.5,422.25 104.5,428.43 112.5,433.79 120.5,437.77 128.5,441.49 136.5,444.72 144.5,447.02 152.5,447.83 160.5,449.04 168.5,450.30 176.5,453.47 184.5,457.26 192.5,463.35 200.5,472.92 208.5,482.11 216.5,491.94 224.5,500.20 232.5,507.30 240.5,514.12 248.5,519.78 256.5,523.50 264.5,522.00 272.5,521.11 280.5,520.95 288.5,520.14 296.5,516.31 304.5,511.68 312.5,508.51 320.5,507.50 328.5,506.40 336.5,506.54 344.5,503.64 352.5,501.02 360.5,495.50 368.5,487.86 376.5,479.71 384.5,470.60 392.5,461.17 400.5,453.37 408.5,445.94 416.5,438.87 424.5,432.59 432.5,428.04 440.5,423.61 448.5,418.18 456.5,411.83 464.5,404.81 472.5,399.17 480.5,393.11 488.5,387.47 496.5,381.68 504.5,374.04 512.5,369.53 520.5,366.28 528.5,362.76 536.5,358.46 544.5,357.50 552.5,356.60 560.5,356.13 568.5,354.33 576.5,353.29 584.5,352.21 592.5,350.12 600.5,346.61 608.5,343.06 616.5,339.93 624.5,337.85 632.5,341.00 640.5,342.70 648.5,343.80 656.5,345.86 664.5,349.02 672.5,352.60 680.5,353.12 688.5,351.38 696.5,349.42 704.5,348.04 712.5,344.01 720.5,340.53 728.5,336.33 736.5,331.32 744.5,330.99 752.5,329.94 760.5,330.71 768.5,332.11 776.5,332.34 784.5,332.33 792.5,330.62 800.5,324.30 808.5,319.80 816.5,315.96 824.5,309.40 832.5,304.31 840.5,297.73 848.5,293.52 856.5,291.47 864.5,289.93 872.5,289.04 880.5,288.72 888.5,287.44 896.5,287.29 904.5,288.19 912.5,284.75 920.5,280.94 928.5,276.40 936.5,271.47 944.5,267.78 952.5,263.36 960.5,262.20 968.5,263.08 976.5,262.76 984.5,261.13 992.5,260.03 1000.5,256.72 1008.5,254.51 1016.5,251.16 1024.5,246.75 1032.5,242.52 1040.5,238.92 1048.5,234.66 1056.5,230.72 1064.5,227.82 1072.5,224.72 1080.5,220.38 1088.5,216.21 1096.5,212.86 1104.5,209.32 1112.5,204.40 1120.5,200.53 1128.5,196.18 1136.5,193.94 1144.5,192.34 1152.5,193.24 1160.5,195.96 1168.5,197.98 1176.5,200.70 1184.5,204.70 1192.5,209.22 1200.5,213.49 1208.5,215.53 1216.5,218.40 1224.5,221.20 1232.5,223.07 1240.5,224.16 1248.5,225.54 1256.5,227.91 1264.5,229.93 1272.5,233.31 1280.5,237.09 1288.5,241.63 1296.5,245.08 1304.5,246.39 1312.5,247.38 1320.5,246.99 1328.5,244.69 1336.5,242.10 1344.5,239.29 1352.5,236.41 1360.5,234.73 1368.5,232.74 1376.5,232.37 1384.5,230.69 1392.5,227.52 1400.5,224.61 1408.5,223.05 1416.5,221.45 1424.5,221.64 1432.5,219.33 1440.5,216.05 1448.5,213.53 1456.5,210.01 1464.5,206.70 1472.5,201.45 1480.5,196.46 1488.5,191.75 1496.5,188.15 1504.5,185.69 1512.5,183.70 1520.5,181.95 1528.5,177.20 1536.5,172.03 1544.5,166.82 1552.5,162.39 1560.5,158.80 1568.5,154.32 1576.5,149.93 1584.5,145.59 1592.5,139.40 1600.5,135.69 1608.5,131.57 1616.5,128.68 1624.5,124.79 1632.5,119.16 1640.5,115.05 1648.5,111.46 1656.5,107.67" fill="none" stroke="#ffa500" stroke-width="1" />
</g>
<g shape-rendering="crispEdges">
<rect x="0" y="122" width="1676" height="2" fill="#32cd32"/>
<rect x="0" y="250" width="1676" height="2" fill="#4169e1"/>
<rect x="0" y="392" width="1676" height="2" fill="#4169e1"/>
<rect x="0" y="572" width="1676" height="2" fill="#4169e1"/>
</g>
<g shape-rendering="crispEdges">
<rect x="0" y="682" width="1" height="9" fill="#c0c0c0"/>
<rect x="8" y="682" width="1" height="4" fill="#c0c0c0"/>
<rect x="16" y="679" width="1" height="4" fill="#c0c0c0"/>
<rect x="24" y="676" width="1" height="7" fill="#c0c0c0"/>
<rect x="32" y="669" width="1" height="14" fill="#c0c0c0"/>
<rect x="40" y="662" width="1" height="21" fill="#c0c0c0"/>
<rect x="48" y="657" width="1" height="26" fill="#c0c0c0"/>
<rect x="56" y="658" width="1" height="25" fill="#c0c0c0"/>
<rect x="64" y="660" width="1" height="23" fill="#c0c0c0"/>
<rect x="72" y="661" width="1" height="22" fill="#c0c0c0"/>
<rect x="80" y="664" width="1" height="19" fill="#c0c0c0"/>
<rect x="88" y="669" width="1" height="14" fill="#c0c0c0"/>
<rect x="96" y="682" width="1" height="6" fill="#c0c0c0"/>
<rect x="104" y="682" width="1" height="18" fill="#c0c0c0"/>
<rect x="112" y="682" width="1" height="29" fill="#c0c0c0"/>
<rect x="120" y="682" width="1" height="37" fill="#c0c0c0"/>
<rect x="128" y="682" width="1" height="48" fill="#c0c0c0"/>
<rect x="136" y="682" width="1" height="54" fill="#c0c0c0"/>
<rect x="144" y="682" width="1" height="54" fill="#c0c0c0"/>
<rect x="152" y="682" width="1" height="47" fill="#c0c0c0"/>
<rect x="160" y="682" width="1" height="40" fill="#c0c0c0"/>
<rect x="168" y="682" width="1" height="34" fill="#c0c0c0"/>
<rect x="176" y="682" width="1" height="32" fill="#c0c0c0"/>
<rect x="184" y="682" width="1" height="28" fill="#c0c0c0"/>
<rect x="192" y="682" width="1" height="34" fill="#c0c0c0"/>
<rect x="200" y="682" width="1" height="45" fill="#c0c0c0"/>
<rect x="208" y="682" width="1" height="50" fill="#c0c0c0"/>
<rect x="216" y="682" width="1" height="56" fill="#c0c0c0"/>
<rect x="224" y="682" width="1" height="59" fill="#c0c0c0"/>
<rect x="232" y="682" width="1" height="59" fill="#c0c0c0"/>
<rect x="240" y="682" width="1" height="56" fill="#c0c0c0"/>
<rect x="248" y="682" width="1" height="52" fill="#c0c0c0"/>
<rect x="256" y="682" width="1" height="44" fill="#c0c0c0"/>
<rect x="264" y="682" width="1" height="35" fill="#c0c0c0"/>
<rect x="272" y="682" width="1" height="28" fill="#c0c0c0"/>
<rect x="280" y="682" width="1" height="26" fill="#c0c0c0"/>
<rect x="288" y="682" width="1" height="22" fill="#c0c0c0"/>
<rect x="296" y="682" width="1" height="14" fill="#c0c0c0"/>
<rect x="304" y="682" width="1" height="2" fill="#c0c0c0"/>
<rect x="312" y="677" width="1" height="6" fill="#c0c0c0"/>
<rect x="320" y="670" width="1" height="13" fill="#c0c0c0"/>
<rect x="328" y="665" width="1" height="18" fill="#c0c0c0"/>
<rect x="336" y="665" width="1" height="18" fill="#c0c0c0"/>
<rect x="344" y="658" width="1" height="25" fill="#c0c0c0"/>
<rect x="352" y="651" width="1" height="32" fill="#c0c0c0"/>
<rect x="360" y="648" width="1" height="35" fill="#c0c0c0"/>
<rect x="368" y="644" width="1" height="39" fill="#c0c0c0"/>
<rect x="376" y="639" width="1" height="44" fill="#c0c0c0"/>
<rect x="384" y="633" width="1" height="50" fill="#c0c0c0"/>
<rect x="392" y="628" width="1" height="55" fill="#c0c0c0"/>
<rect x="400" y="628" width="1" height="55" fill="#c0c0c0"/>
<rect x="408" y="627" width="1" height="56" fill="#c0c0c0"/>
<rect x="416" y="627" width="1" height="56" fill="#c0c0c0"/>
<rect x="424" y="627" width="1" height="56" fill="#c0c0c0"/>
<rect x="432" y="630" width="1" height="53" fill="#c0c0c0"/>
<rect x="440" y="634" width="1" height="49" fill="#c0c0c0"/>
<rect x="448" y="637" width="1" height="46" fill="#c0c0c0"/>
<rect x="456" y="636" width="1" height="47" fill="#c0c0c0"/>
<rect x="464" y="629" width="1" height="54" fill="#c0c0c0"/>
<rect x="472" y="623" width="1" height="60" fill="#c0c0c0"/>
<rect x="480" y="620" width="1" height="63" fill="#c0c0c0"/>
<rect x="488" y="618" width="1" height="65" fill="#c0c0c0"/>
<rect x="496" y="617" width="1" height="66" fill="#c0c0c0"/>
<rect x="504" y="614" width="1" height="69" fill="#c0c0c0"/>
<rect x="512" y="616" width="1" height="67" fill="#c0c0c0"/>
<rect x="520" y="621" width="1" height="62" fill="#c0c0c0"/>
<rect x="528" y="626" width="1" height="57" fill="#c0c0c0"/>
<rect x="536" y="627" width="1" height="56" fill="#c0c0c0"/>
<rect x="544" y="635" width="1" height="48" fill="#c0c0c0"/>
<rect x="552" y="641" width="1" height="42" fill="#c0c0c0"/>
<rect x="560" y="646" width="1" height="37" fill="#c0c0c0"/>
<rect x="568" y="649" width="1" height="34" fill="#c0c0c0"/>
<rect x="576" y="653" width="1" height="30" fill="#c0c0c0"/>
<rect x="584" y="657" width="1" height="26" fill="#c0c0c0"/>
<rect x="592" y="655" width="1" height="28" fill="#c0c0c0"/>
<rect x="600" y="653" width="1" height="30" fill="#c0c0c0"/>
<rect x="608" y="652" width="1" height="31" fill="#c0c0c0"/>
<rect x="616" y="653" width="1" height="30" fill="#c0c0c0"/>
<rect x="624" y="653" width="1" height="30" fill="#c0c0c0"/>
<rect x="632" y="663" width="1" height="20" fill="#c0c0c0"/>
<rect x="640" y="666" width="1" height="17" fill="#c0c0c0"/>
<rect x="648" y="667" width="1" height="16" fill="#c0c0c0"/>
<rect x="656" y="671" width="1" height="12" fill="#c0c0c0"/>
<rect x="664" y="677" width="1" height="6" fill="#c0c0c0"/>
<rect x="672" y="681" width="1" height="2" fill="#c0c0c0"/>
<rect x="680" y="678" width="1" height="5" fill="#c0c0c0"/>
<rect x="688" y="671" width="1" height="12" fill="#c0c0c0"/>
<rect x="696" y="665" width="1" height="18" fill="#c0c0c0"/>
<rect x="704" y="659" width="1" height="24" fill="#c0c0c0"/>
<rect x="712" y="653" width="1" height="30" fill="#c0c0c0"/>
<rect x="720" y="649" width="1" height="34" fill="#c0c0c0"/>
<rect x="728" y="644" width="1" height="39" fill="#c0c0c0"/>
<rect x="736" y="637" width="1" height="46" fill="#c0c0c0"/>
<rect x="744" y="648" width="1" height="35" fill="#c0c0c0"/>
<rect x="752" y="655" width="1" height="28" fill="#c0c0c0"/>
<rect x="760" y="662" width="1" height="21" fill="#c0c0c0"/>
<rect x="768" y="668" width="1" height="15" fill="#c0c0c0"/>
<rect x="776" y="670" width="1" height="13" fill="#c0c0c0"/>
<rect x="784" y="672" width="1" height="11" fill="#c0c0c0"/>
<rect x="792" y="667" width="1" height="16" fill="#c0c0c0"/>
<rect x="800" y="659" width="1" height="24" fill="#c0c0c0"/>
<rect x="808" y="653" width="1" height="30" fill="#c0c0c0"/>
<rect x="816" y="649" width="1" height="34" fill="#c0c0c0"/>
<rect x="824" y="642" width="1" height="41" fill="#c0c0c0"/>
<rect x="832" y="643" width="1" height="40" fill="#c0c0c0"/>
<rect x="840" y="640" width="1" height="43" fill="#c0c0c0"/>
<rect x="848" y="638" width="1" height="45" fill="#c0c0c0"/>
<rect x="856" y="640" width="1" height="43" fill="#c0c0c0"/>
<rect x="864" y="643" width="1" height="40" fill="#c0c0c0"/>
<rect x="872" y="646" width="1" height="37" fill="#c0c0c0"/>
<rect x="880" y="649" width="1" height="34" fill="#c0c0c0"/>
<rect x="888" y="650" width="1" height="33" fill="#c0c0c0"/>
<rect x="896" y="652" width="1" height="31" fill="#c0c0c0"/>
<rect x="904" y="653" width="1" height="30" fill="#c0c0c0"/>
<rect x="912" y="657" width="1" height="26" fill="#c0c0c0"/>
<rect x="920" y="657" width="1" height="26" fill="#c0c0c0"/>
<rect x="928" y="656" width="1" height="27" fill="#c0c0c0"/>
<rect x="936" y="655" width="1" height="28" fill="#c0c0c0"/>
<rect x="944" y="655" width="1" height="28" fill="#c0c0c0"/>
<rect x="952" y="654" width="1" height="29" fill="#c0c0c0"/>
<rect x="960" y="657" width="1" height="26" fill="#c0c0c0"/>
<rect x="968" y="661" width="1" height="22" fill="#c0c0c0"/>
<rect x="976" y="662" width="1" height="21" fill="#c0c0c0"/>
<rect x="984" y="659" width="1" height="24" fill="#c0c0c0"/>
<rect x="992" y="653" width="1" height="30" fill="#c0c0c0"/>
<rect x="1000" y="649" width="1" height="34" fill="#c0c0c0"/>
<rect x="1008" y="645" width="1" height="38" fill="#c0c0c0"/>
<rect x="1016" y="639" width="1" height="44" fill="#c0c0c0"/>
<rect x="1024" y="634" width="1" height="49" fill="#c0c0c0"/>
<rect x="1032" y="632" width="1" height="51" fill="#c0c0c0"/>
<rect x="1040" y="634" width="1" height="49" fill="#c0c0c0"/>
<rect x="1048" y="634" width="1" height="49" fill="#c0c0c0"/>
<rect x="1056" y="633" width="1" height="50" fill="#c0c0c0"/>
<rect x="1064" y="637" width="1" height="46" fill="#c0c0c0"/>
<rect x="1072" y="640" width="1" height="43" fill="#c0c0c0"/>
<rect x="1080" y="641" width="1" height="42" fill="#c0c0c0"/>
<rect x="1088" y="640" width="1" height="43" fill="#c0c0c0"/>
<rect x="1096" y="641" width="1" height="42" fill="#c0c0c0"/>
<rect x="1104" y="641" width="1" height="42" fill="#c0c0c0"/>
<rect x="1112" y="638" width="1" height="45" fill="#c0c0c0"/>
<rect x="1120" y="637" width="1" height="46" fill="#c0c0c0"/>
<rect x="1128" y="639" width="1" height="44" fill="#c0c0c0"/>
<rect x="1136" y="650" width="1" height="33" fill="#c0c0c0"/>
<rect x="1144" y="657" width="1" height="26" fill="#c0c0c0"/>
<rect x="1152" y="668" width="1" height="15" fill="#c0c0c0"/>
<rect x="1160" y="678" width="1" height="5" fill="#c0c0c0"/>
<rect x="1168" y="682" width="1" height="3" fill="#c0c0c0"/>
<rect x="1176" y="682" width="1" height="8" fill="#c0c0c0"/>
<rect x="1184" y="682" width="1" height="13" fill="#c0c0c0"/>
<rect x="1192" y="682" width="1" height="18" fill="#c0c0c0"/>
<rect x="1200" y="682" width="1" height="22" fill="#c0c0c0"/>
<rect x="1208" y="682" width="1" height="21" fill="#c0c0c0"/>
<rect x="1216" y="682" width="1" height="20" fill="#c0c0c0"/>
<rect x="1224" y="682" width="1" height="18" fill="#c0c0c0"/>
<rect x="1232" y="682" width="1" height="17" fill="#c0c0c0"/>
<rect x="1240" y="682" width="1" height="14" fill="#c0c0c0"/>
<rect x="1248" y="682" width="1" height="9" fill="#c0c0c0"/>
<rect x="1256" y="682" width="1" height="6" fill="#c0c0c0"/>
<rect x="1264" y="682" width="1" height="5" fill="#c0c0c0"/>
<rect x="1272" y="682" width="1" height="6" fill="#c0c0c0"/>
<rect x="1280" y="682" width="1" height="5" fill="#c0c0c0"/>
<rect x="1288" y="682" width="1" height="8" fill="#c0c0c0"/>
<rect x="1296" y="682" width="1" height="9" fill="#c0c0c0"/>
<rect x="1304" y="682" width="1" height="11" fill="#c0c0c0"/>
<rect x="1312" y="682" width="1" height="10" fill="#c0c0c0"/>
<rect x="1320" y="682" width="1" height="9" fill="#c0c0c0"/>
<rect x="1328" y="682" width="1" height="5" fill="#c0c0c0"/>
<rect x="1336" y="680" width="1" height="3" fill="#c0c0c0"/>
<rect x="1344" y="675" width="1" height="8" fill="#c0c0c0"/>
<rect x="1352" y="672" width="1" height="11" fill="#c0c0c0"/>
<rect x="1360" y="674" width="1" height="9" fill="#c0c0c0"/>
<rect x="1368" y="676" width="1" height="7" fill="#c0c0c0"/>
<rect x="1376" y="678" width="1" height="5" fill="#c0c0c0"/>
<rect x="1384" y="676" width="1" height="7" fill="#c0c0c0"/>
<rect x="1392" y="669" width="1" height="14" fill="#c0c0c0"/>
<rect x="1400" y="665" width="1" height="18" fill="#c0c0c0"/>
<rect x="1408" y="663" width="1" height="20" fill="#c0c0c0"/>
<rect x="1416" y="661" width="1" height="22" fill="#c0c0c0"/>
<rect x="1424" y="666" width="1" height="17" fill="#c0c0c0"/>
<rect x="1432" y="662" width="1" height="21" fill="#c0c0c0"/>
<rect x="1440" y="660" width="1" height="23" fill="#c0c0c0"/>
<rect x="1448" y="658" width="1" height="25" fill="#c0c0c0"/>
<rect x="1456" y="658" width="1" height="25" fill="#c0c0c0"/>
<rect x="1464" y="657" width="1" height="26" fill="#c0c0c0"/>
<rect x="1472" y="652" width="1" height="31" fill="#c0c0c0"/>
<rect x="1480" y="648" width="1" height="35" fill="#c0c0c0"/>
<rect x="1488" y="645" width="1" height="38" fill="#c0c0c0"/>
<rect x="1496" y="643" width="1" height="40" fill="#c0c0c0"/>
<rect x="1504" y="643" width="1" height="40" fill="#c0c0c0"/>
<rect x="1512" y="644" width="1" height="39" fill="#c0c0c0"/>
<rect x="1520" y="647" width="1" height="36" fill="#c0c0c0"/>
<rect x="1528" y="646" width="1" height="37" fill="#c0c0c0"/>
<rect x="1536" y="643" width="1" height="40" fill="#c0c0c0"/>
<rect x="1544" y="642" width="1" height="41" fill="#c0c0c0"/>
<rect x="1552" y="641" width="1" height="42" fill="#c0c0c0"/>
<rect x="1560" y="636" width="1" height="47" fill="#c0c0c0"/>
<rect x="1568" y="633" width="1" height="50" fill="#c0c0c0"/>
<rect x="1576" y="632" width="1" height="51" fill="#c0c0c0"/>
<rect x="1584" y="631" width="1" height="52" fill="#c0c0c0"/>
<rect x="1592" y="631" width="1" height="52" fill="#c0c0c0"/>
<rect x="1600" y="632" width="1" height="51" fill="#c0c0c0"/>
<rect x="1608" y="632" width="1" height="51" fill="#c0c0c0"/>
<rect x="1616" y="637" width="1" height="46" fill="#c0c0c0"/>
<rect x="1624" y="639" width="1" height="44" fill="#c0c0c0"/>
<rect x="1632" y="634" width="1" height="49" fill="#c0c0c0"/>
<rect x="1640" y="632" width="1" height="51" fill="#c0c0c0"/>
<rect x="1648" y="631" width="1" height="52" fill="#c0c0c0"/>
<rect x="1656" y="630" width="1" height="53" fill="#c0c0c0"/>
<polyline points="0.5,683.06 8.5,686.43 16.5,688.40 24.5,688.12 32.5,686.72 40.5,684.47 48.5,678.85 56.5,676.88 64.5,671.82 72.5,668.04 80.5,665.58 88.5,664.52 96.5,665.79 104.5,669.32 112.5,674.73 120.5,681.61 128.5,689.65 136.5,698.05 144.5,706.48 152.5,713.69 160.5,719.52 168.5,722.71 176.5,724.21 184.5,724.11 192.5,723.82 200.5,723.46 208.5,723.10 216.5,723.28 224.5,724.63 232.5,726.74 240.5,729.09 248.5,731.28 256.5,733.08 264.5,733.17 272.5,731.36 280.5,728.61 288.5,724.77 296.5,719.72 304.5,713.42 312.5,706.69 320.5,699.67 328.5,692.85 336.5,686.99 344.5,681.11 352.5,674.86 360.5,668.67 368.5,663.00 376.5,657.93 384.5,653.10 392.5,648.38 400.5,644.27 408.5,640.05 416.5,636.64 424.5,633.87 432.5,631.85 440.5,630.65 448.5,630.47 456.5,630.74 464.5,630.81 472.5,630.29 480.5,629.51 488.5,628.54 496.5,627.43 504.5,625.72 512.5,623.76 520.5,622.00 528.5,620.92 536.5,620.73 544.5,622.08 552.5,624.48 560.5,627.56 568.5,631.19 576.5,635.48 584.5,639.99 592.5,643.78 600.5,646.80 608.5,649.64 616.5,651.65 624.5,652.98 632.5,654.89 640.5,656.77 648.5,658.30 656.5,659.91 664.5,662.30 672.5,665.40 680.5,668.18 688.5,670.11 696.5,671.41 704.5,670.94 712.5,669.49 720.5,667.57 728.5,664.59 736.5,660.19 744.5,656.50 752.5,653.97 760.5,652.97 768.5,653.29 776.5,654.51 784.5,656.60 792.5,658.55 800.5,660.14 808.5,661.88 816.5,662.04 824.5,660.60 832.5,658.55 840.5,655.43 848.5,651.91 856.5,648.37 864.5,645.69 872.5,644.29 880.5,643.88 888.5,643.95 896.5,645.03 904.5,646.13 912.5,648.01 920.5,650.07 928.5,651.84 936.5,653.18 944.5,654.20 952.5,654.72 960.5,655.50 968.5,656.57 976.5,657.52 984.5,657.73 992.5,657.33 1000.5,656.56 1008.5,655.42 1016.5,653.57 1024.5,651.32 1032.5,648.55 1040.5,645.48 1048.5,642.38 1056.5,639.55 1064.5,637.78 1072.5,636.81 1080.5,636.41 1088.5,636.55 1096.5,637.34 1104.5,638.30 1112.5,638.75 1120.5,639.12 1128.5,639.83 1136.5,641.25 1144.5,643.17 1152.5,646.13 1160.5,650.43 1168.5,655.29 1176.5,660.75 1184.5,667.12 1192.5,674.09 1200.5,681.28 1208.5,687.14 1216.5,692.12 1224.5,695.71 1232.5,698.04 1240.5,699.26 1248.5,699.42 1256.5,698.69 1264.5,697.23 1272.5,695.43 1280.5,693.68 1288.5,692.28 1296.5,691.22 1304.5,690.48 1312.5,690.10 1320.5,690.11 1328.5,689.97 1336.5,689.29 1344.5,687.87 1352.5,686.21 1360.5,684.51 1368.5,682.90 1376.5,681.25 1384.5,679.47 1392.5,676.96 1400.5,674.50 1408.5,672.61 1416.5,671.04 1424.5,670.36 1432.5,669.03 1440.5,667.22 1448.5,665.02 1456.5,662.96 1464.5,661.67 1472.5,660.26 1480.5,658.51 1488.5,656.73 1496.5,654.23 1504.5,652.06 1512.5,650.35 1520.5,649.17 1528.5,647.82 1536.5,646.26 1544.5,645.09 1552.5,644.29 1560.5,643.33 1568.5,642.17 1576.5,640.99 1584.5,639.52 1592.5,637.73 1600.5,636.27 1608.5,635.08 1616.5,634.55 1624.5,634.34 1632.5,634.10 1640.5,633.97 1648.5,633.80 1656.5,633.72" fill="none" stroke="#ff0000" stroke-width="1" stroke-dasharray="3,3"/>
</g>
<g shape-rendering="crispEdges">
<line x1="1" y1="787.5" x2="1675" y2="787.5" stroke="#c0c0c0" stroke-width="1" stroke-dasharray="3,3"/>
<line x1="1" y1="834.5" x2="1675" y2="834.5" stroke="#c0c0c0" stroke-width="1" stroke-dasharray="3,3"/>
<polyline points="0.5,813.26 8.5,807.98 16.5,803.11 24.5,807.50 32.5,800.86 40.5,799.96 48.5,799.78 56.5,806.90 64.5,809.82 72.5,807.14 80.5,812.06 88.5,815.57 96.5,830.85 104.5,828.42 112.5,828.98 120.5,829.41 128.5,833.92 136.5,829.48 144.5,823.91 152.5,812.58 160.5,811.89 168.5,812.22 176.5,815.60 184.5,812.86 192.5,824.94 200.5,830.07 208.5,826.87 216.5,828.56 224.5,827.15 232.5,823.97 240.5,819.39 248.5,818.34 256.5,812.23 264.5,808.49 272.5,809.20 280.5,813.86 288.5,811.21 296.5,804.19 304.5,798.01 312.5,800.76 320.5,799.80 328.5,798.76 336.5,806.67 344.5,797.32 352.5,796.36 360.5,798.01 368.5,796.72 376.5,792.40 384.5,791.02 392.5,789.00 400.5,796.62 408.5,794.64 416.5,795.88 424.5,794.12 432.5,801.03 440.5,802.81 448.5,802.41 456.5,795.23 464.5,787.15 472.5,786.56 480.5,787.15 488.5,788.73 496.5,787.16 504.5,785.13 512.5,792.90 520.5,800.83 528.5,800.83 536.5,795.13 544.5,810.20 552.5,808.33 560.5,807.60 568.5,805.98 576.5,807.93 584.5,808.86 592.5,800.30 600.5,797.74 608.5,799.48 616.5,802.42 624.5,800.14 632.5,820.25 640.5,810.72 648.5,807.95 656.5,814.02 664.5,817.46 672.5,816.83 680.5,805.11 688.5,799.76 696.5,798.95 704.5,796.80 712.5,795.06 720.5,796.57 728.5,793.04 736.5,789.03 744.5,815.33 752.5,812.82 760.5,814.46 768.5,815.07 776.5,810.52 784.5,811.02 792.5,802.06 800.5,796.68 808.5,797.86 816.5,798.49 824.5,792.98 832.5,804.57 840.5,798.99 848.5,799.78 856.5,804.19 864.5,805.77 872.5,806.31 880.5,807.06 888.5,803.54 896.5,805.14 904.5,805.02 912.5,808.92 920.5,803.66 928.5,802.01 936.5,800.73 944.5,802.83 952.5,799.37 960.5,808.14 968.5,811.47 976.5,805.50 984.5,799.25 992.5,794.64 1000.5,794.44 1008.5,792.30 1016.5,788.30 1024.5,787.61 1032.5,792.06 1040.5,798.16 1048.5,795.57 1056.5,793.51 1064.5,803.87 1072.5,802.65 1080.5,799.11 1088.5,795.10 1096.5,799.21 1104.5,796.97 1112.5,791.61 1120.5,795.44 1128.5,801.12 1136.5,817.34 1144.5,815.19 1152.5,821.55 1160.5,824.90 1168.5,820.04 1176.5,821.04 1184.5,822.42 1192.5,824.13 1200.5,825.28 1208.5,814.51 1216.5,816.33 1224.5,812.90 1232.5,815.25 1240.5,808.72 1248.5,806.56 1256.5,807.97 1264.5,809.14 1272.5,815.66 1280.5,810.47 1288.5,818.14 1296.5,815.33 1304.5,818.34 1312.5,813.36 1320.5,812.83 1328.5,805.11 1336.5,799.22 1344.5,799.22 1352.5,801.06 1360.5,812.64 1368.5,812.07 1376.5,813.02 1384.5,805.97 1392.5,795.16 1400.5,800.03 1408.5,802.58 1416.5,800.50 1424.5,813.53 1432.5,801.68 1440.5,801.49 1448.5,801.77 1456.5,803.20 1464.5,802.22 1472.5,795.19 1480.5,793.35 1488.5,795.09 1496.5,794.97 1504.5,795.92 1512.5,800.21 1520.5,804.18 1528.5,795.67 1536.5,793.23 1544.5,794.03 1552.5,792.86 1560.5,787.33 1568.5,786.30 1576.5,790.81 1584.5,789.12 1592.5,790.65 1600.5,792.29 1608.5,789.59 1616.5,803.00 1624.5,797.87 1632.5,788.44 1640.5,789.24 1648.5,790.13 1656.5,790.28" fill="none" stroke="#1e90ff" stroke-width="1"/>
</g>
<g shape-rendering="crispEdges" fill="#000">
<rect x="0" y="28" width="1676" height="1"/>
<rect x="0" y="604" width="1676" height="1"/>
<rect x="0" y="606" width="1676" height="1"/>
<rect x="0" y="748" width="1676" height="1"/>
<rect x="0" y="750" width="1676" height="1"/>
<rect x="0" y="870" width="1676" height="1"/>
<rect x="1675" y="28" width="1" height="577"/>
<rect x="1675" y="606" width="1" height="143"/>
<rect x="1675" y="750" width="1" height="121"/>
</g>
<g shape-rendering="crispEdges" fill="#000">
<rect x="1675" y="40" width="3" height="1"/>
<rect x="1675" y="73" width="3" height="1"/>
<rect x="1675" y="106" width="3" height="1"/>
<rect x="1675" y="139" width="3" height="1"/>
<rect x="1675" y="172" width="3" height="1"/>
<rect x="1675" y="205" width="3" height="1"/>
<rect x="1675" y="238" width="3" height="1"/>
<rect x="1675" y="271" width="3" height="1"/>
<rect x="1675" y="304" width="3" height="1"/>
<rect x="1675" y="337" width="3" height="1"/>
<rect x="1675" y="370" width="3" height="1"/>
<rect x="1675" y="403" width="3" height="1"/>
<rect x="1675" y="436" width="3" height="1"/>
<rect x="1675" y="469" width="3" height="1"/>
<rect x="1675" y="502" width="3" height="1"/>
<rect x="1675" y="535" width="3" height="1"/>
<rect x="1675" y="568" width="3" height="1"/>
<rect x="1675" y="601" width="3" height="1"/>
<rect x="1675" y="608" width="3" height="1"/>
<rect x="1675" y="682" width="3" height="1"/>
<rect x="1675" y="747" width="3" height="1"/>
<rect x="1675" y="752" width="3" height="1"/>
<rect x="1675" y="787" width="3" height="1"/>
<rect x="1675" y="834" width="3" height="1"/>
<rect x="1675" y="869" width="3" height="1"/>
</g>
<g font-family="'Liberation Sans', sans-serif" font-size="9.6" stroke-width="0.25" letter-spacing="-0.22" fill="#000" stroke="#000">
<text x="1681" y="44">3355.720</text>
<text x="1681" y="77">3333.775</text>
<text x="1681" y="110">3311.830</text>
<text x="1681" y="143">3289.220</text>
<text x="1681" y="176">3267.275</text>
<text x="1681" y="209">3245.330</text>
<text x="1681" y="242">3223.385</text>
<text x="1681" y="275">3201.440</text>
<text x="1681" y="308">3179.495</text>
<text x="1681" y="341">3157.550</text>
<text x="1681" y="374">3134.940</text>
<text x="1681" y="407">3112.995</text>
<text x="1681" y="440">3091.050</text>
<text x="1681" y="473">3069.105</text>
<text x="1681" y="506">3047.160</text>
<text x="1681" y="539">3025.215</text>
<text x="1681" y="572">3003.270</text>
<text x="1681" y="605">2981.325</text>
<text x="1679" y="617">26.3655</text>
<text x="1679" y="686">0.00</text>
<text x="1679" y="745">-23.4467</text>
<text x="1679" y="761">100</text>
<text x="1679" y="791">70</text>
<text x="1679" y="838">30</text>
<text x="1679" y="867">0</text>
</g>
<rect x="1677" y="58" width="43" height="11" fill="#000000" shape-rendering="crispEdges"/>
<text x="1681" y="67" font-family="'Liberation Sans', sans-serif" font-size="9.6" stroke-width="0.25" letter-spacing="-0.22" fill="#fff" stroke="#fff">3340.000</text>
<rect x="1677" y="117" width="43" height="11" fill="#32cd32" shape-rendering="crispEdges"/>
<text x="1681" y="126" font-family="'Liberation Sans', sans-serif" font-size="9.6" stroke-width="0.25" letter-spacing="-0.22" fill="#fff" stroke="#fff">3300.000</text>
<rect x="1677" y="245" width="43" height="11" fill="#4169e1" shape-rendering="crispEdges"/>
<text x="1681" y="254" font-family="'Liberation Sans', sans-serif" font-size="9.6" stroke-width="0.25" letter-spacing="-0.22" fill="#fff" stroke="#fff">3215.000</text>
<rect x="1677" y="387" width="43" height="11" fill="#4169e1" shape-rendering="crispEdges"/>
<text x="1681" y="396" font-family="'Liberation Sans', sans-serif" font-size="9.6" stroke-width="0.25" letter-spacing="-0.22" fill="#fff" stroke="#fff">3120.000</text>
<rect x="1677" y="567" width="43" height="11" fill="#4169e1" shape-rendering="crispEdges"/>
<text x="1681" y="576" font-family="'Liberation Sans', sans-serif" font-size="9.6" stroke-width="0.25" letter-spacing="-0.22" fill="#fff" stroke="#fff">3000.000</text>
<g shape-rendering="crispEdges" fill="#000">
<rect x="0" y="870" width="1" height="4"/>
<rect x="64" y="870" width="1" height="4"/>
<rect x="128" y="870" width="1" height="4"/>
<rect x="192" y="870" width="1" height="4"/>
<rect x="256" y="870" width="1" height="4"/>
<rect x="320" y="870" width="1" height="4"/>
<rect x="384" y="870" width="1" height="4"/>
<rect x="448" y="870" width="1" height="4"/>
<rect x="512" y="870" width="1" height="4"/>
<rect x="576" y="870" width="1" height="4"/>
<rect x="640" y="870" width="1" height="4"/>
<rect x="704" y="870" width="1" height="4"/>
<rect x="768" y="870" width="1" height="4"/>
<rect x="832" y="870" width="1" height="4"/>
<rect x="896" y="870" width="1" height="4"/>
<rect x="960" y="870" width="1" height="4"/>
<rect x="1024" y="870" width="1" height="4"/>
<rect x="1088" y="870" width="1" height="4"/>
<rect x="1152" y="870" width="1" height="4"/>
<rect x="1216" y="870" width="1" height="4"/>
<rect x="1280" y="870" width="1" height="4"/>
<rect x="1344" y="870" width="1" height="4"/>
<rect x="1408" y="870" width="1" height="4"/>
<rect x="1472" y="870" width="1" height="4"/>
<rect x="1536" y="870" width="1" height="4"/>
<rect x="1600" y="870" width="1" height="4"/>
</g>
<g font-family="'Liberation Sans', sans-serif" font-size="9.6" stroke-width="0.25" letter-spacing="-0.3" fill="#000" stroke="#000">
<text x="-0.7" y="883">22 Jun 2020</text>
<text x="63.3" y="883">23 Jun 20:00</text>
<text x="127.3" y="883">25 Jun 04:00</text>
<text x="191.3" y="883">26 Jun 12:00</text>
<text x="255.3" y="883">29 Jun 16:00</text>
<text x="319.3" y="883">1 Jul 00:00</text>
<text x="383.3" y="883">2 Jul 08:00</text>
<text x="447.3" y="883">3 Jul 16:00</text>
<text x="511.3" y="883">7 Jul 00:00</text>
<text x="575.3" y="883">8 Jul 08:00</text>
<text x="639.3" y="883">9 Jul 16:00</text>
<text x="703.3" y="883">12 Jul 23:00</text>
<text x="767.3" y="883">14 Jul 04:00</text>
<text x="831.3" y="883">15 Jul 12:00</text>
<text x="895.3" y="883">16 Jul 20:00</text>
<text x="959.3" y="883">20 Jul 00:00</text>
<text x="1023.3" y="883">21 Jul 08:00</text>
<text x="1087.3" y="883">22 Jul 16:00</text>
<text x="1151.3" y="883">24 Jul 00:00</text>
<text x="1215.3" y="883">27 Jul 04:00</text>
<text x="1279.3" y="883">28 Jul 12:00</text>
<text x="1343.3" y="883">29 Jul 20:00</text>
<text x="1407.3" y="883">31 Jul 04:00</text>
<text x="1471.3" y="883">3 Aug 08:00</text>
<text x="1535.3" y="883">4 Aug 16:00</text>
<text x="1599.3" y="883">6 Aug 00:00</text>
</g>
<path d="M3,35 L10,35 L6.5,39 Z" fill="#000"/>
<text x="15" y="39.4" font-family="'Liberation Sans', sans-serif" font-size="9.6" stroke-width="0.25" fill="#000" letter-spacing="-0.05" stroke="#000">SP500-,H4</text>
<text x="66" y="39.4" font-family="'Liberation Sans', sans-serif" font-size="9.6" stroke-width="0.25" fill="#000" letter-spacing="-0.21" word-spacing="0.5" stroke="#000">3340.250 3341.250 3338.750 3340.000</text>
<text x="4" y="619" font-family="'Liberation Sans', sans-serif" font-size="9.6" stroke-width="0.25" fill="#000" letter-spacing="-0.08" stroke="#000">MACD(12,26,9) 18.4075 17.3878</text>
<text x="4" y="763" font-family="'Liberation Sans', sans-serif" font-size="9.6" stroke-width="0.25" fill="#000" letter-spacing="-0.05" stroke="#000">RSI(14) 68.1940</text>
<text x="396.4" y="203" font-family="'Noto Sans CJK SC', 'WenQuanYi Zen Hei', sans-serif" font-size="36.6" fill="#ed1c24">多空转折点<tspan dy="-1" dx="-1.5" font-size="38.3" letter-spacing="-0.1">3300</tspan></text>
<rect x="0" y="891" width="1720" height="1" fill="#dcdcdc" shape-rendering="crispEdges"/>
<rect x="0" y="893" width="258" height="1" fill="#000" shape-rendering="crispEdges"/>
<rect x="336" y="893" width="1384" height="1" fill="#000" shape-rendering="crispEdges"/>
</svg>
</body></html>
